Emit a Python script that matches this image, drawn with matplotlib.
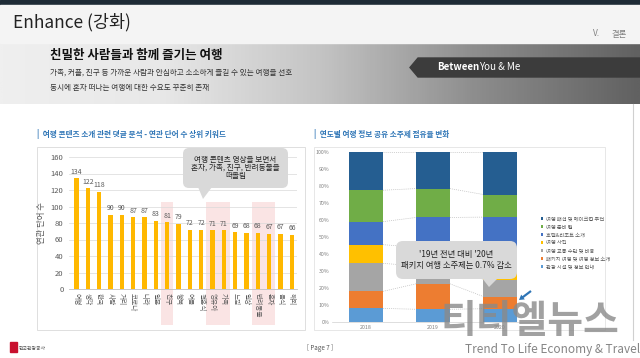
import numpy as np
import matplotlib
matplotlib.use("Agg")
import matplotlib.pyplot as plt
from matplotlib.colors import LinearSegmentedColormap
from matplotlib.patches import FancyBboxPatch, Polygon, Rectangle, FancyArrow

plt.rcParams['font.family'] = ['Noto Sans CJK KR', 'DejaVu Sans']

# 왼쪽 차트: 연관 단어 수 상위 키워드
keywords = ["여행", "생각", "한국", "사람", "거리", "코로나", "나라", "일본", "친구", "행복",
            "여름", "결혼식", "영유아", "가족", "느낌", "일상", "반려동물", "혼자", "음식", "해외"]
counts = [134, 122, 118, 90, 90, 87, 87, 83, 81, 79, 72, 72, 71, 71, 69, 68, 68, 67, 67, 66]
highlight_groups = [(8, 8), (12, 13), (16, 17)]

# 오른쪽 차트: 연도별 소주제 점유율 (%), 아래에서 위로
years = ["2018", "2019", "2020"]
topics = ["관광 시설 및 정보 안내", "패키지 여행 및 여행 정보 소개", "여행 교통 수단 및 비용",
          "여행 사진", "호텔&리조트 소개", "여행 준비 팁", "여행 패션 및 메이크업 추천"]
share_tour_info = [8.0, 7.5, 7.8]
share_package = [10.0, 15.0, 7.2]
share_transport = [16.5, 10.5, 10.0]
share_photo = [11.0, 11.0, 10.0]
share_hotel = [13.5, 17.5, 26.7]
share_prep = [18.5, 17.0, 13.3]
share_fashion = [22.5, 21.5, 25.0]
topic_colors = ["#5B9BD5", "#ED7D31", "#A5A5A5", "#FFC000", "#4472C4", "#70AD47", "#255E91"]

W, H = 640, 358
fig = plt.figure(figsize=(6.4, 3.58), dpi=100)
fig.patch.set_facecolor("white")


def fx(x):
    return x / W


def fy(y):
    return 1 - y / H


def frect(x0, y0, x1, y1):
    return [fx(x0), fy(y1), fx(x1) - fx(x0), fy(y0) - fy(y1)]


def page_axes(z):
    a = fig.add_axes([0, 0, 1, 1], zorder=z)
    a.set_xlim(0, W)
    a.set_ylim(H, 0)
    a.axis("off")
    a.patch.set_alpha(0)
    return a


# 배경 (헤더, 패널 테두리)
bg = page_axes(0)
bg.add_patch(Rectangle((0, 0), W, 5, color="#1E2B36"))
bg.add_patch(Rectangle((0, 5), W, 38, color="#F4F4F4"))
cmap = LinearSegmentedColormap.from_list("g", ["#EFEFEF", "#E8E8E8", "#C4C4C4", "#8C8C8C", "#616161"])
bg.imshow(np.linspace(0, 1, 300).reshape(1, -1), aspect="auto", cmap=cmap,
          extent=[0, W, 104, 43], zorder=0)
bg.set_xlim(0, W)
bg.set_ylim(H, 0)

bg.text(13, 22, "Enhance (강화)", fontsize=12.5, va="center", color="#222222")
bg.text(593, 34, "V.", fontsize=6, va="center", color="#7F7F7F")
bg.text(612, 34, "결론", fontsize=6, va="center", color="#7F7F7F")

bg.text(50, 56, "친밀한 사람들과 함께 즐기는 여행", fontsize=9, fontweight="bold", va="center",
        color="#111111", zorder=3)
bg.text(50, 73, "가족, 커플, 친구 등 가까운 사람과 안심하고 소소하게 즐길 수 있는 여행을 선호",
        fontsize=5.5, va="center", color="#333333", zorder=3)
bg.text(50, 88, "동시에 혼자 떠나는 여행에 대한 수요도 꾸준히 존재", fontsize=5.5, va="center",
        color="#333333", zorder=3)
bg.add_patch(Polygon([(418, 58), (640, 58), (640, 77), (418, 77), (410, 67.5)], closed=True,
                     color="#3C3C3C", zorder=3))
bg.text(437, 67.5, "Between", fontsize=7, fontweight="bold", color="white", va="center", zorder=4)
bg.text(479, 67.5, "You & Me", fontsize=7, color="white", va="center", zorder=4)

bg.text(37, 134, "|  여행 콘텐츠 소개 관련 댓글 분석 - 연관 단어 수 상위 키워드", fontsize=5.5,
        fontweight="bold", color="#2E75B6", va="center")
bg.text(314, 134, "|  연도별 여행 정보 공유 소주제 점유율 변화", fontsize=5.5,
        fontweight="bold", color="#2E75B6", va="center")
bg.add_patch(Rectangle((37, 147), 268, 183, fill=False, ec="#D9D9D9", lw=0.6))
bg.add_patch(Rectangle((314, 147), 291, 183, fill=False, ec="#E3E3E3", lw=0.6))
bg.plot([633, 633], [104, 340], color="#D0D0D0", lw=0.8)

bg.text(320, 348, "[ Page 7 ]", fontsize=4.5, ha="center", va="center", color="#555555")
bg.add_patch(Rectangle((10, 342), 7, 10, color="#C8102E"))
bg.text(19, 348, "한국관광공사", fontsize=3.5, va="center", color="#555555")

# 왼쪽 막대 차트
ax1 = fig.add_axes(frect(69, 157, 297, 289), zorder=1)
x = np.arange(len(keywords))
for a, b in highlight_groups:
    ax1.add_patch(Rectangle((a - 0.55, -44), b - a + 1.1, 150, color="#F9DEDE", alpha=0.8,
                            clip_on=False, zorder=0, lw=0))
ax1.bar(x, counts, width=0.38, color="#FFB800", zorder=3)
for xi, v in zip(x, counts):
    ax1.text(xi, v + 3, str(v), ha="center", va="bottom", fontsize=5, color="#595959")
ax1.set_xlim(-0.65, 19.45)
ax1.set_ylim(0, 160)
ax1.set_yticks(range(0, 161, 20))
ax1.yaxis.grid(True, color="#D9D9D9", lw=0.5)
ax1.set_axisbelow(True)
ax1.set_xticks(x)
ax1.set_xticklabels(keywords, rotation=270, fontsize=4.8, color="#595959")
ax1.tick_params(axis="y", labelsize=5.5, colors="#595959", length=0, pad=4)
ax1.tick_params(axis="x", length=0, pad=3)
for s in ["top", "right", "left"]:
    ax1.spines[s].set_visible(False)
ax1.spines["bottom"].set_color("#BFBFBF")
ax1.spines["bottom"].set_linewidth(0.6)
ax1.set_ylabel("연관 단어 수", fontsize=6, color="#595959", labelpad=3)
ax1.patch.set_alpha(0)

# 오른쪽 누적 막대 차트
ax2 = fig.add_axes(frect(332, 152, 534, 322), zorder=1)
series = [share_tour_info, share_package, share_transport, share_photo, share_hotel, share_prep, share_fashion]
xs = np.arange(len(years))
bw = 0.5
bottom = np.zeros(len(years))
for vals, c, name in zip(series, topic_colors, topics):
    ax2.bar(xs, vals, width=bw, bottom=bottom, color=c, label=name, zorder=3)
    bottom = bottom + np.array(vals)
    for i in range(len(years) - 1):
        ax2.plot([xs[i] + bw / 2, xs[i + 1] - bw / 2], [bottom[i], bottom[i + 1]],
                 ls=(0, (1.5, 1.5)), color="#BFBFBF", lw=0.5, zorder=2)
ax2.set_xlim(-0.507, 2.507)
ax2.set_ylim(0, 100)
ax2.set_yticks(range(0, 101, 10))
ax2.set_yticklabels([f"{v}%" for v in range(0, 101, 10)])
ax2.set_xticks(xs)
ax2.set_xticklabels(years)
ax2.tick_params(axis="both", labelsize=3.8, colors="#7F7F7F", length=0, pad=2)
for s in ["top", "right", "left"]:
    ax2.spines[s].set_visible(False)
ax2.spines["bottom"].set_color("#D0D0D0")
ax2.spines["bottom"].set_linewidth(0.5)
ax2.patch.set_alpha(0)

handles, labels = ax2.get_legend_handles_labels()
fig.legend(handles[::-1], labels[::-1], loc="upper left", bbox_to_anchor=(fx(536), fy(212)),
           fontsize=3.8, frameon=False, handlelength=0.5, handleheight=0.5, handletextpad=0.4,
           labelspacing=0.55, labelcolor="#595959")

# 말풍선, 화살표, 워터마크 (맨 위)
fg = page_axes(5)
fg.add_patch(FancyBboxPatch((183, 148), 105, 40, boxstyle="round,pad=0,rounding_size=6",
                            fc="#D9D9D9", ec="none"))
fg.add_patch(Polygon([(198, 187), (212, 187), (203, 199)], closed=True, fc="#D9D9D9", ec="none"))
fg.text(235.5, 168, "여행 콘텐츠 영상을 보면서\n혼자, 가족, 친구, 반려동물을\n떠올림", fontsize=5.5,
        ha="center", va="center", color="#222222", linespacing=1.0)

fg.add_patch(FancyBboxPatch((396, 241), 121, 38, boxstyle="round,pad=0,rounding_size=7",
                            fc="#D9D9D9", ec="none"))
fg.add_patch(Polygon([(482, 278), (498, 278), (489, 287)], closed=True, fc="#D9D9D9", ec="none"))
fg.text(456.5, 260, "'19년 전년 대비 '20년\n패키지 여행 소주제는 0.7% 감소", fontsize=6,
        ha="center", va="center", color="#222222", linespacing=1.15)
fg.add_patch(FancyArrow(531, 291, -8, 6, width=2.2, head_width=6, head_length=5,
                        color="#2E75B6", lw=0))

fg.text(530, 322, "티티엘뉴스", fontsize=28, fontweight="bold", ha="center", va="center",
        color="#8A8A8A", alpha=0.8)
fg.text(640, 350, "Trend To Life Economy & Travel", fontsize=8.5, ha="right", va="center",
        color="#777777", alpha=0.9)

fig.savefig("out.png", dpi=100)
